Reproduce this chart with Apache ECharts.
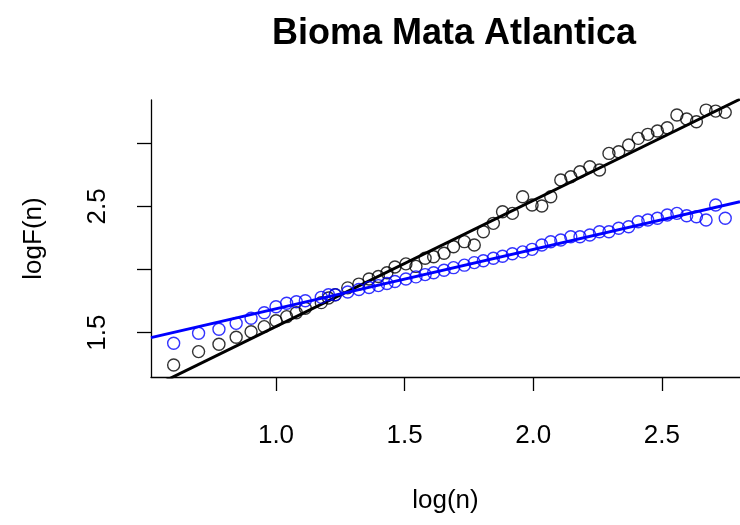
<!DOCTYPE html>
<html>
<head>
<meta charset="utf-8">
<script src="https://cdn.jsdelivr.net/npm/echarts@6/dist/echarts.min.js"></script>
<style>
  html, body { margin: 0; padding: 0; background: #fff; }
  #chart { width: 740px; height: 525px; }
</style>
</head>
<body>
<div id="chart"></div>
<script>
// log10 of the box sizes n
const logN = [0.6021,0.6990,0.7782,0.8451,0.9031,0.9542,1.0000,1.0414,1.0792,1.1139,
  1.1761,1.2041,1.2304,1.2788,1.3222,1.3617,1.3979,1.4314,1.4624,1.5051,
  1.5441,1.5798,1.6128,1.6532,1.6902,1.7324,1.7709,1.8062,1.8451,1.8808,
  1.9191,1.9590,1.9956,2.0334,2.0682,2.1072,2.1461,2.1818,2.2201,2.2577,
  2.2945,2.3324,2.3711,2.4082,2.4456,2.4829,2.5211,2.5587,2.5966,2.6345,
  2.6721,2.7093,2.7466];

// log F(n), black series
const logF_black = [1.244,1.350,1.408,1.464,1.508,1.548,1.595,1.627,1.658,1.693,
  1.738,1.775,1.800,1.855,1.885,1.925,1.945,1.975,2.020,2.045,
  2.025,2.089,2.102,2.129,2.181,2.221,2.194,2.300,2.366,2.458,
  2.445,2.577,2.511,2.503,2.577,2.709,2.735,2.775,2.814,2.788,
  2.920,2.933,2.986,3.039,3.071,3.097,3.123,3.224,3.192,3.171,
  3.263,3.255,3.245];

// log F(n), blue series
const logF_blue = [1.416,1.495,1.527,1.574,1.614,1.658,1.706,1.733,1.745,1.753,
  1.780,1.800,1.800,1.822,1.842,1.858,1.873,1.890,1.905,1.925,
  1.942,1.960,1.975,1.995,2.015,2.035,2.055,2.070,2.090,2.105,
  2.125,2.140,2.160,2.194,2.220,2.234,2.260,2.260,2.274,2.300,
  2.300,2.327,2.339,2.379,2.392,2.406,2.432,2.445,2.426,2.418,
  2.392,2.511,2.406];

// fitted straight lines: logF = intercept + slope * log(n)
const fitBlack = { intercept: 0.551, slope: 0.998 };
const fitBlue  = { intercept: 1.219, slope: 0.470 };

const xTicks = [1.0, 1.5, 2.0, 2.5];
const yTicks = [1.5, 2.0, 2.5, 3.0];
const yLabels = [1.5, 2.5];

const X_MIN = 0.514, X_MAX = 2.804;
const Y_MIN = 1.149, Y_MAX = 3.343;

const FONT = "'Liberation Sans', Arial, Helvetica, sans-serif";

function pairs(xs, ys) { return xs.map((x, i) => [x, ys[i]]); }
function fitLine(f) {
  return [X_MIN, X_MAX].map(x => [x, f.intercept + f.slope * x]);
}

const chart = echarts.init(document.getElementById('chart'), null, { renderer: 'canvas' });

chart.setOption({
  backgroundColor: '#ffffff',
  animation: false,
  title: {
    text: 'Bioma Mata Atlantica',
    left: 449,
    textAlign: 'center',
    top: 11,
    textStyle: { fontFamily: FONT, fontWeight: 'bold', fontSize: 36, color: '#000' }
  },
  grid: { left: 151, top: 100, right: 0, bottom: 148, containLabel: false },
  xAxis: {
    type: 'value',
    min: X_MIN, max: X_MAX,
    name: 'log(n)',
    nameLocation: 'middle',
    nameGap: 111,
    nameTextStyle: { fontFamily: FONT, fontSize: 26, color: '#000' },
    axisLine: { show: true, lineStyle: { color: '#000', width: 1.3 } },
    axisTick: { show: true, inside: false, length: 14, customValues: xTicks,
                lineStyle: { color: '#000', width: 1.3 } },
    axisLabel: { show: true, customValues: xTicks, margin: 46,
                 formatter: v => v.toFixed(1),
                 fontFamily: FONT, fontSize: 26, color: '#000' },
    splitLine: { show: false }
  },
  yAxis: {
    type: 'value',
    min: Y_MIN, max: Y_MAX,
    name: 'logF(n)',
    nameLocation: 'middle',
    nameRotate: 90,
    nameGap: 104,
    nameTextStyle: { fontFamily: FONT, fontSize: 26, color: '#000' },
    axisLine: { show: true, lineStyle: { color: '#000', width: 1.3 } },
    axisTick: { show: true, inside: false, length: 14, customValues: yTicks,
                lineStyle: { color: '#000', width: 1.3 } },
    axisLabel: { show: true, customValues: yLabels, rotate: 90, margin: 40,
                 formatter: v => v.toFixed(1),
                 fontFamily: FONT, fontSize: 26, color: '#000' },
    splitLine: { show: false }
  },
  series: [
    {
      type: 'scatter',
      data: pairs(logN, logF_black),
      symbol: 'circle',
      symbolSize: 12,
      itemStyle: { color: 'rgba(0,0,0,0)', borderColor: '#000', borderWidth: 1.4 },
      z: 2
    },
    {
      type: 'line',
      data: fitLine(fitBlack),
      showSymbol: false,
      lineStyle: { color: '#000', width: 3 },
      z: 3
    },
    {
      type: 'scatter',
      data: pairs(logN, logF_blue),
      symbol: 'circle',
      symbolSize: 12,
      itemStyle: { color: 'rgba(0,0,0,0)', borderColor: '#0000ff', borderWidth: 1.4 },
      z: 4
    },
    {
      type: 'line',
      data: fitLine(fitBlue),
      showSymbol: false,
      lineStyle: { color: '#0000ff', width: 3 },
      z: 5
    }
  ]
});
</script>
</body>
</html>
